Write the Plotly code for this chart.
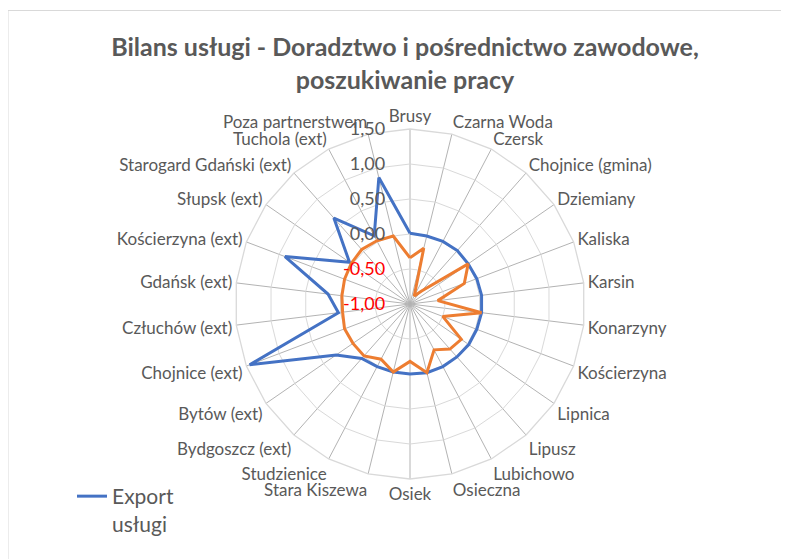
import plotly.graph_objects as go

W, H = 789, 559
OFF = 8  # browser body margin offset

categories = ["Brusy", "Czarna Woda", "Czersk", "Chojnice (gmina)", "Dziemiany", "Kaliska",
              "Karsin", "Konarzyny", "Kościerzyna", "Lipnica", "Lipusz", "Lubichowo",
              "Osieczna", "Osiek", "Stara Kiszewa", "Studzienice", "Bydgoszcz (ext)",
              "Bytów (ext)", "Chojnice (ext)", "Człuchów (ext)", "Gdańsk (ext)",
              "Kościerzyna (ext)", "Słupsk (ext)", "Starogard Gdański (ext)",
              "Tuchola (ext)", "Poza partnerstwem"]

export_vals = [0.01, 0.00, 0.01, 0.02, 0.01, 0.02, 0.03, 0.03, 0.02, 0.02, 0.01, 0.01,
               0.01, 0.00, 0.00, 0.01, 0.04, 0.28, 1.45, 0.03, 0.18, 0.91, 0.05, 0.64,
               0.10, 0.86]

import_vals = [-0.34, -0.18, -0.87, -0.75, 0.01, -0.17, -0.60, 0.03, -0.50, -0.11, -0.14,
               -0.26, 0.01, -0.18, 0.00, -0.11, -0.01, -0.01, 0.00, -0.03, -0.02, 0.00,
               0.02, 0.04, 0.02, 0.00]

tick_vals = [-1.0, -0.5, 0.0, 0.5, 1.0, 1.5]
tick_text = ["-1,00", "-0,50", "0,00", "0,50", "1,00", "1,50"]

title_text = "Bilans usługi - Doradztwo i pośrednictwo zawodowe,<br>poszukiwanie pracy"

GRAY = "#595959"
FONT = "Lato"


def px_x(x):
    return (x - OFF) / W


def px_y(y):
    return 1 - (y - OFF) / H


def closed(vals):
    return list(vals) + [vals[0]]


fig = go.Figure()
fig.add_trace(go.Scatterpolar(
    r=closed(export_vals), theta=closed(categories), mode="lines",
    name="Export<br>usługi", line=dict(color="#4472C4", width=3),
))
fig.add_trace(go.Scatterpolar(
    r=closed(import_vals), theta=closed(categories), mode="lines",
    name="Import usługi", line=dict(color="#ED7D31", width=3), showlegend=False,
))

ticktext_colored = [t if not t.startswith("-") else f"<span style='color:#FF0000'>{t}</span>"
                    for t in tick_text]

cx, cy, R = 410, 304, 175
fig.update_layout(
    width=W, height=H,
    margin=dict(l=0, r=0, t=0, b=0),
    paper_bgcolor="white", plot_bgcolor="white",
    font=dict(family=FONT, color=GRAY, size=17),
    title=dict(text=f"<b>{title_text}</b>", x=px_x(405), xanchor="center",
               y=px_y(56), yanchor="top",
               font=dict(family=FONT, size=25, color=GRAY)),
    polar=dict(
        domain=dict(x=[px_x(cx - R), px_x(cx + R)], y=[px_y(cy + R), px_y(cy - R)]),
        bgcolor="white",
        gridshape="linear",
        angularaxis=dict(
            type="category", rotation=90, direction="clockwise",
            showline=True, linecolor="#d9d9d9", linewidth=1.3,
            gridcolor="#b3b3b3", gridwidth=1.3,
            ticks="", tickfont=dict(family=FONT, size=17, color=GRAY),
        ),
        radialaxis=dict(
            range=[-1.0, 1.5], tickvals=tick_vals, ticktext=ticktext_colored,
            angle=90, tickangle=90, side="counterclockwise",
            showline=False, gridcolor="#d9d9d9", gridwidth=1.3,
            ticks="outside", ticklen=18, tickcolor="rgba(0,0,0,0)",
            tickfont=dict(family=FONT, size=18, color=GRAY),
        ),
    ),
    showlegend=True,
    legend=dict(x=px_x(72), y=px_y(476), xanchor="left", yanchor="top",
                valign="top", font=dict(family=FONT, size=21, color=GRAY),
                bgcolor="rgba(0,0,0,0)"),
    shapes=[dict(type="rect", xref="paper", yref="paper",
                 x0=px_x(8), x1=1.05, y0=-0.05, y1=px_y(10.5),
                 line=dict(color="#d9d9d9", width=1))],
)

fig.write_html("out.html")
